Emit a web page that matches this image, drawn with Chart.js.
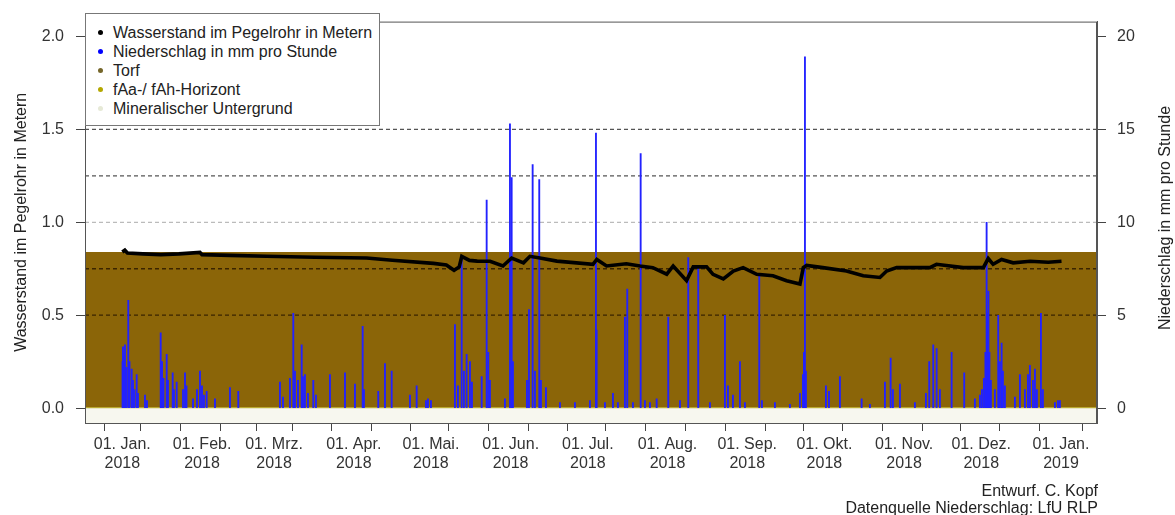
<!DOCTYPE html>
<html>
<head>
<meta charset="utf-8">
<script src="https://cdn.jsdelivr.net/npm/chart.js@4.4.1/dist/chart.umd.min.js"></script>
<style>
  body { margin: 0; background: #fff; font-family: 'Liberation Sans', Arial, sans-serif; }
  #wrap { position: relative; width: 1175px; height: 515px; }
  #legend {
    position: absolute; left: 85px; top: 13px; width: 295px; height: 113px;
    border: 1px solid #777; background: #fff; box-sizing: border-box;
    padding-top: 9px; font-size: 16px; color: #222;
  }
  #legend .row { height: 19px; line-height: 19px; position: relative; padding-left: 27px; white-space: nowrap; }
  #legend .dot { position: absolute; left: 12px; top: 7px; width: 5px; height: 5px; border-radius: 50%; }
  .note { position: absolute; right: 77px; font-size: 16px; color: #222; line-height: 19px; white-space: nowrap; }
  #rightTitle {
    position: absolute; left: 965px; top: 208px; width: 400px; height: 20px; line-height: 20px;
    text-align: center; font-size: 16px; color: #222; transform: rotate(-90deg);
  }
</style>
</head>
<body>
<div id="wrap">
  <canvas id="pegelChart"></canvas>
  <div id="legend"></div>
  <div id="rightTitle">Niederschlag in mm pro Stunde</div>
  <div class="note" style="top:481px">Entwurf. C. Kopf</div>
  <div class="note" style="top:498px">Datenquelle Niederschlag: LfU RLP</div>
</div>
<script>
// days since 01.01.2018
const xMin = -14.5;
const xMax = 379;

const tickDays = [0, 14, 31, 45, 59, 73, 90, 104, 120, 134, 151, 165, 181, 195, 212, 226, 243, 257, 273, 287, 304, 318, 334, 348, 365];
const tickLabels = {
    0: ['01. Jan.', '2018'], 31: ['01. Feb.', '2018'], 59: ['01. Mrz.', '2018'], 90: ['01. Apr.', '2018'],
    120: ['01. Mai.', '2018'], 151: ['01. Jun.', '2018'], 181: ['01. Jul.', '2018'], 212: ['01. Aug.', '2018'],
    243: ['01. Sep.', '2018'], 273: ['01. Okt.', '2018'], 304: ['01. Nov.', '2018'], 334: ['01. Dez.', '2018'],
    365: ['01. Jan.', '2019']
};

// Wasserstand (m)
const levelDays = [0, 1, 2, 8, 15, 22, 30.2, 31, 42, 56, 75, 95, 105, 121, 126, 129, 131, 132, 135, 138,
    143, 148, 151.4, 156, 158.5, 162.4, 169, 183, 184.5, 188.3, 196, 201.3, 206.3, 211.7, 214.2, 219.4, 222, 227.2, 229.7, 233.7,
    237.6, 241.4, 246.7, 253, 258.3, 263.5, 264.8, 266.1, 272.4, 281.6, 288.1, 294.6, 297.2, 301.1, 314, 316.6, 327, 334.8, 336.7, 338.6,
    341.9, 346.4, 353, 360, 365.2];
const levelValues = [0.84, 0.85, 0.835, 0.83, 0.826, 0.83, 0.838, 0.826, 0.822, 0.817, 0.812, 0.808, 0.796, 0.779, 0.77, 0.742, 0.76, 0.817, 0.795, 0.791,
    0.79, 0.765, 0.808, 0.782, 0.817, 0.808, 0.791, 0.774, 0.8, 0.765, 0.777, 0.765, 0.756, 0.721, 0.765, 0.686, 0.76, 0.76, 0.72, 0.695,
    0.738, 0.756, 0.72, 0.712, 0.686, 0.668, 0.756, 0.768, 0.756, 0.738, 0.712, 0.703, 0.738, 0.756, 0.756, 0.774, 0.756, 0.756, 0.805, 0.774,
    0.8, 0.782, 0.79, 0.785, 0.79];

// Niederschlag (mm/h)
const rainDays = [0.1, 0.27, 0.66, 1.05, 1.63, 2.33, 2.8, 3.65, 4.16, 4.74,
    5.6, 6.1, 8.83, 9.6, 14.93, 15.44, 16.02, 17.26, 17.77, 19.6,
    20.1, 21.15, 23.6, 24.38, 24.96, 27.49, 29.04, 30.21, 30.99, 31.77,
    32.81, 36.04, 41.87, 45.1, 61.31, 62.48, 65.2, 66.49, 67.15, 68.31,
    69.75, 70.26, 71.03, 72.2, 74.26, 75.31, 80.75, 86.59, 90.47, 93.47,
    93.97, 99.53, 102.14, 104.74, 111.86, 114.46, 118.08, 118.86, 120.02, 129.35,
    130.51, 131.96, 132.85, 133.9, 135.19, 135.96, 139.74, 141.68, 142.3, 142.96,
    148.79, 150.74, 151.4, 151.9, 157.35, 158.13, 159.56, 160.46, 162.13, 162.79,
    164.74, 170.18, 176.01, 181.84, 184.18, 184.45, 187.68, 190.79, 192.73, 195.45,
    196.35, 198.56, 201.56, 203.23, 205.17, 207.78, 212.29, 216.84, 220.06, 223.95,
    228.5, 234.33, 235.5, 237.44, 240.16, 242.11, 247.67, 248.72, 253.77, 259.6,
    263.49, 264.66, 265.05, 265.44, 265.82, 273.6, 274.77, 279.04, 287.48, 290.71,
    296.54, 298.76, 299.65, 302.37, 308.2, 312.48, 313.76, 315.32, 316.64, 317.92,
    322.47, 327.37, 331.53, 333.48, 334.25, 335.03, 335.61, 336.08, 336.39, 336.78,
    337.17, 337.75, 339.31, 340.59, 341.25, 341.91, 342.42, 343.2, 347.09, 349.03,
    350.98, 352.14, 352.92, 354.09, 354.87, 355.64, 357.2, 357.97, 362.64, 363.8,
    364.58];
const rainMm = [2.5, 3.3, 2.8, 3.4, 2.2, 5.8, 2.5, 2.1, 1.5, 1.0,
    1.8, 0.8, 0.7, 0.4, 4.05, 2.5, 1.6, 2.9, 1.5, 1.9,
    1.0, 1.4, 1.0, 1.9, 1.2, 0.5, 1.0, 2.0, 1.2, 0.7,
    0.9, 0.5, 1.1, 0.9, 1.4, 0.6, 1.6, 5.1, 2.0, 1.5,
    3.4, 1.7, 1.8, 0.8, 1.5, 0.7, 1.8, 1.9, 1.3, 4.4,
    1.0, 0.9, 2.4, 2.0, 0.7, 1.2, 0.4, 0.5, 0.4, 4.5,
    1.2, 8.1, 2.0, 2.9, 2.5, 1.4, 1.7, 11.2, 3.0, 1.5,
    0.5, 15.3, 12.4, 2.5, 1.5, 5.3, 13.1, 2.0, 12.3, 1.5,
    1.1, 0.3, 0.3, 0.4, 14.8, 4.2, 0.3, 0.8, 0.3, 4.9,
    6.4, 0.3, 13.7, 0.4, 0.3, 0.5, 4.9, 0.4, 8.1, 7.6,
    0.3, 5.0, 1.2, 0.7, 2.5, 0.3, 7.2, 0.4, 0.3, 0.2,
    0.8, 1.8, 3.0, 18.9, 2.0, 1.2, 0.9, 1.7, 0.5, 0.2,
    1.4, 2.7, 1.0, 1.3, 0.3, 0.8, 2.5, 3.4, 3.2, 1.0,
    3.0, 1.9, 0.5, 0.7, 1.0, 1.6, 3.0, 10.0, 5.1, 6.3,
    3.0, 1.5, 1.0, 5.0, 2.5, 3.5, 2.0, 1.2, 0.6, 1.8,
    1.0, 1.8, 2.3, 1.5, 2.1, 1.0, 5.1, 1.0, 0.3, 0.4,
    0.4];

// Bodenschichten (m)
const layerNames = ['Torf', 'fAa-/ fAh-Horizont', 'Mineralischer Untergrund'];
const layerTops = [0.84, 0.006, 0];
const layerBottoms = [0.006, 0, -0.08];
const layerColors = ['#8b6508', '#b8a830', '#f7f7ef'];

// Hilfslinien (m)
const refLevels = [1.5, 1.25, 1.0, 0.75, 0.5];
const refColors = ['#555555', '#555555', '#bbbbbb', '#3a2400', '#3a2400'];

const leftTicks = [0, 0.5, 1.0, 1.5, 2.0];
const rightTicks = [0, 5, 10, 15, 20];

const legendItems = [
    ['Wasserstand im Pegelrohr in Metern', '#000000'],
    ['Niederschlag in mm pro Stunde', '#0000ff'],
    ['Torf', '#75662a'],
    ['fAa-/ fAh-Horizont', '#b4a800'],
    ['Mineralischer Untergrund', '#e6e9d6']
];

const legendBox = document.getElementById('legend');
legendItems.forEach(([text, color]) => {
    const row = document.createElement('div');
    row.className = 'row';
    row.innerHTML = '<span class="dot" style="background:' + color + '"></span>' + text;
    legendBox.appendChild(row);
});

Chart.defaults.font.family = "'Liberation Sans', Arial, sans-serif";
Chart.defaults.font.size = 16;
Chart.defaults.color = '#333';

const datasets = [];

layerNames.forEach((name, i) => {
    datasets.push({
        type: 'line',
        label: name,
        data: [{ x: xMin, y: layerTops[i] }, { x: xMax, y: layerTops[i] }],
        borderWidth: 0,
        pointRadius: 0,
        backgroundColor: layerColors[i],
        fill: { value: layerBottoms[i] },
        yAxisID: 'y',
        order: 20 + i
    });
});

refLevels.forEach((lvl, i) => {
    datasets.push({
        type: 'line',
        label: 'ref' + lvl,
        data: [{ x: xMin, y: lvl }, { x: xMax, y: lvl }],
        borderColor: refColors[i],
        borderWidth: 1.3,
        borderDash: [4, 3],
        pointRadius: 0,
        fill: false,
        yAxisID: 'y',
        order: 10
    });
});

datasets.push({
    type: 'bar',
    label: 'Niederschlag in mm pro Stunde',
    data: rainDays.map((d, i) => ({ x: d, y: rainMm[i] })),
    backgroundColor: '#2222ff',
    barThickness: 1.2,
    yAxisID: 'y1',
    order: 5
});

datasets.push({
    type: 'line',
    label: 'Wasserstand im Pegelrohr in Metern',
    data: levelDays.map((d, i) => ({ x: d, y: levelValues[i] })),
    borderColor: '#000',
    borderWidth: 3.6,
    pointRadius: 0,
    tension: 0,
    fill: false,
    yAxisID: 'y',
    order: 1
});

const framePlugin = {
    id: 'frame',
    afterDatasetsDraw(chart) {
        const a = chart.chartArea;
        const c = chart.ctx;
        c.save();
        c.strokeStyle = '#555';
        c.lineWidth = 1;
        c.strokeRect(a.left + 0.5, a.top + 0.5, a.right - a.left - 1, a.bottom - a.top);
        c.restore();
    }
};

const myChart = new Chart(document.getElementById('pegelChart').getContext('2d'), {
    type: 'line',
    data: { datasets: datasets },
    plugins: [framePlugin],
    options: {
        responsive: true,
        maintainAspectRatio: false,
        animation: false,
        layout: { padding: { top: 13, left: 0, right: 0, bottom: 0 } },
        plugins: { legend: { display: false }, tooltip: { enabled: false } },
        scales: {
            x: {
                type: 'linear',
                min: xMin,
                max: xMax,
                offset: false,
                afterBuildTicks: s => { s.ticks = tickDays.map(v => ({ value: v })); },
                afterFit: s => { s.height = 92; },
                grid: { drawOnChartArea: false, drawTicks: true, tickLength: 8, color: '#444' },
                border: { color: '#555' },
                ticks: {
                    autoSkip: false,
                    maxRotation: 0,
                    padding: 4,
                    color: '#333',
                    callback: v => tickLabels[v] || ''
                }
            },
            y: {
                type: 'linear',
                position: 'left',
                min: -0.08,
                max: 2.08,
                afterBuildTicks: s => { s.ticks = leftTicks.map(v => ({ value: v })); },
                afterFit: s => { s.width = 85; },
                grid: { drawOnChartArea: false, drawTicks: true, tickLength: 9, color: '#444' },
                border: { color: '#555' },
                ticks: { padding: 12, color: '#333', callback: v => v.toFixed(1) },
                title: {
                    display: true,
                    text: 'Wasserstand im Pegelrohr in Metern',
                    color: '#222',
                    padding: { top: 12, bottom: 0 }
                }
            },
            y1: {
                type: 'linear',
                position: 'right',
                min: -0.8,
                max: 20.8,
                afterBuildTicks: s => { s.ticks = rightTicks.map(v => ({ value: v })); },
                afterFit: s => { s.width = 78; },
                grid: { drawOnChartArea: false, drawTicks: true, tickLength: 9, color: '#444' },
                border: { color: '#555' },
                ticks: { padding: 11, color: '#333', callback: v => String(v) }
            }
        }
    }
});
</script>
</body>
</html>
